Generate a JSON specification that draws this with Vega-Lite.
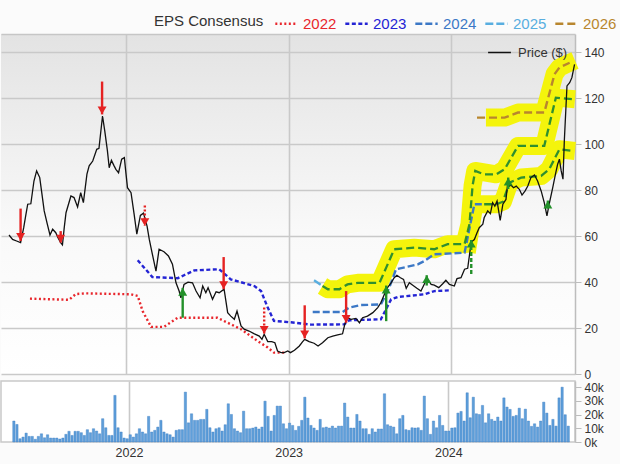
{
  "$schema": "https://vega.github.io/schema/vega-lite/v6.json",
  "background": "#fbfbfb",
  "padding": {"left": 0, "top": 11, "right": 4, "bottom": 4},
  "config": {"font": "Liberation Sans", "view": {"stroke": null}},
  "spacing": 7,
  "bounds": "flush",
  "datasets": {
    "price": [
      {"date":"2021-04-13","v":60.5},{"date":"2021-04-21","v":58.6},{"date":"2021-04-30","v":57.9},{"date":"2021-05-09","v":57.2},{"date":"2021-05-16","v":63.7},{"date":"2021-05-21","v":69.5},{"date":"2021-05-25","v":73.9},{"date":"2021-06-01","v":74.1},{"date":"2021-06-08","v":84},{"date":"2021-06-14","v":88.4},{"date":"2021-06-21","v":85.5},{"date":"2021-06-25","v":79.7},{"date":"2021-07-01","v":71},{"date":"2021-07-08","v":65.2},{"date":"2021-07-14","v":60.5},{"date":"2021-07-20","v":63},{"date":"2021-07-27","v":61.5},{"date":"2021-08-01","v":59.3},{"date":"2021-08-07","v":57.2},{"date":"2021-08-11","v":56.2},{"date":"2021-08-15","v":63.7},{"date":"2021-08-19","v":70.2},{"date":"2021-08-30","v":77.5},{"date":"2021-09-06","v":76.8},{"date":"2021-09-14","v":72.7},{"date":"2021-09-21","v":78.9},{"date":"2021-09-27","v":74.6},{"date":"2021-10-05","v":87},{"date":"2021-10-10","v":90.6},{"date":"2021-10-18","v":92.7},{"date":"2021-10-27","v":97.8},{"date":"2021-11-01","v":98.2},{"date":"2021-11-09","v":112.3},{"date":"2021-11-14","v":105.8},{"date":"2021-11-20","v":97.1},{"date":"2021-11-24","v":89.8},{"date":"2021-11-29","v":93},{"date":"2021-12-05","v":90.6},{"date":"2021-12-09","v":89.1},{"date":"2021-12-15","v":87.6},{"date":"2021-12-22","v":93.5},{"date":"2021-12-28","v":94.2},{"date":"2021-12-31","v":88.4},
      {"date":"2022-01-04","v":81.1},{"date":"2022-01-12","v":78.9},{"date":"2022-01-19","v":69.5},{"date":"2022-01-25","v":60.9},{"date":"2022-02-02","v":69},{"date":"2022-02-09","v":70},{"date":"2022-02-17","v":64.4},{"date":"2022-02-22","v":58.6},{"date":"2022-03-01","v":52.1},{"date":"2022-03-09","v":44.8},{"date":"2022-03-16","v":54.3},{"date":"2022-03-27","v":53.2},{"date":"2022-04-06","v":51.4},{"date":"2022-04-15","v":47.8},{"date":"2022-04-23","v":39.7},{"date":"2022-04-30","v":36.1},{"date":"2022-05-04","v":33.2},{"date":"2022-05-11","v":39},{"date":"2022-05-20","v":40},{"date":"2022-05-30","v":39.7},{"date":"2022-06-07","v":36.1},{"date":"2022-06-16","v":33.2},{"date":"2022-06-22","v":38.3},{"date":"2022-06-29","v":35.4},{"date":"2022-07-04","v":37.6},{"date":"2022-07-14","v":32.5},{"date":"2022-07-22","v":35.8},{"date":"2022-07-29","v":35.4},{"date":"2022-08-09","v":36.9},{"date":"2022-08-17","v":26.7},{"date":"2022-08-24","v":25.2},{"date":"2022-09-01","v":23.8},{"date":"2022-09-07","v":27.4},{"date":"2022-09-16","v":20.9},{"date":"2022-09-23","v":19.5},{"date":"2022-10-04","v":18.7},{"date":"2022-10-16","v":17.5},{"date":"2022-10-27","v":16.5},{"date":"2022-11-02","v":15.1},{"date":"2022-11-07","v":17.3},{"date":"2022-11-15","v":14.1},{"date":"2022-11-24","v":14.1},{"date":"2022-12-01","v":13.6},{"date":"2022-12-07","v":10},{"date":"2022-12-15","v":9.3},{"date":"2022-12-22","v":9.3},{"date":"2022-12-30","v":10},
      {"date":"2023-01-05","v":9.3},{"date":"2023-01-14","v":10.3},{"date":"2023-01-25","v":12.2},{"date":"2023-02-01","v":14},{"date":"2023-02-06","v":15.1},{"date":"2023-02-16","v":14.1},{"date":"2023-02-27","v":13.4},{"date":"2023-03-08","v":12.2},{"date":"2023-03-18","v":13.6},{"date":"2023-03-30","v":15.8},{"date":"2023-04-10","v":16.5},{"date":"2023-04-21","v":17},{"date":"2023-05-02","v":17.5},{"date":"2023-05-07","v":21.6},{"date":"2023-05-13","v":24.5},{"date":"2023-05-21","v":23.8},{"date":"2023-06-01","v":24.2},{"date":"2023-06-09","v":22.3},{"date":"2023-06-16","v":24.5},{"date":"2023-06-27","v":25.2},{"date":"2023-07-09","v":26.7},{"date":"2023-07-20","v":28.9},{"date":"2023-07-27","v":31},{"date":"2023-08-04","v":34.7},{"date":"2023-08-11","v":37.6},{"date":"2023-08-19","v":39.7},{"date":"2023-08-26","v":41.9},{"date":"2023-09-01","v":43},{"date":"2023-09-09","v":41.9},{"date":"2023-09-16","v":41.2},{"date":"2023-09-22","v":37.3},{"date":"2023-09-29","v":39.7},{"date":"2023-10-09","v":38.3},{"date":"2023-10-16","v":37.3},{"date":"2023-10-25","v":36.1},{"date":"2023-11-02","v":39.3},{"date":"2023-11-09","v":41.2},{"date":"2023-11-17","v":39},{"date":"2023-11-24","v":38.7},{"date":"2023-12-04","v":37.6},{"date":"2023-12-13","v":39.3},{"date":"2023-12-20","v":40.8},{"date":"2023-12-28","v":39},
      {"date":"2024-01-08","v":38.3},{"date":"2024-01-14","v":41.5},{"date":"2024-01-23","v":41.9},{"date":"2024-01-31","v":45.6},{"date":"2024-02-07","v":46},{"date":"2024-02-15","v":57.5},{"date":"2024-02-22","v":58.5},{"date":"2024-02-28","v":61.5},{"date":"2024-03-04","v":63.7},{"date":"2024-03-12","v":65.2},{"date":"2024-03-15","v":68},{"date":"2024-03-23","v":71},{"date":"2024-03-29","v":69.8},{"date":"2024-04-03","v":74.6},{"date":"2024-04-08","v":73.1},{"date":"2024-04-13","v":75.3},{"date":"2024-04-20","v":66.9},{"date":"2024-04-26","v":73.9},{"date":"2024-05-03","v":76},{"date":"2024-05-07","v":83.3},{"date":"2024-05-11","v":81.8},{"date":"2024-05-14","v":82.3},{"date":"2024-05-20","v":81.1},{"date":"2024-05-26","v":81.8},{"date":"2024-06-02","v":80.4},{"date":"2024-06-08","v":77.9},{"date":"2024-06-15","v":79.7},{"date":"2024-06-21","v":81.8},{"date":"2024-06-28","v":85.5},{"date":"2024-07-06","v":86.6},{"date":"2024-07-13","v":84},{"date":"2024-07-21","v":79.7},{"date":"2024-07-28","v":74.6},{"date":"2024-08-03","v":68.8},{"date":"2024-08-08","v":73.9},{"date":"2024-08-16","v":81.1},{"date":"2024-08-22","v":86.9},{"date":"2024-08-27","v":91.3},{"date":"2024-08-31","v":93.5},{"date":"2024-09-04","v":88.4},{"date":"2024-09-08","v":84.8},{"date":"2024-09-11","v":101.4},{"date":"2024-09-17","v":125.4},{"date":"2024-09-23","v":126.8},{"date":"2024-09-28","v":129},{"date":"2024-10-04","v":134.8}
    ],
    "eps": [
      {"yr":"2022","date":"2021-05-30","v":32.8},{"yr":"2022","date":"2021-08-26","v":32.3},{"yr":"2022","date":"2021-09-10","v":34.8},{"yr":"2022","date":"2021-10-03","v":35.1},{"yr":"2022","date":"2022-01-12","v":34.7},{"yr":"2022","date":"2022-01-27","v":34},{"yr":"2022","date":"2022-02-07","v":27.4},{"yr":"2022","date":"2022-02-26","v":20.5},{"yr":"2022","date":"2022-03-27","v":20.5},{"yr":"2022","date":"2022-04-27","v":24.5},{"yr":"2022","date":"2022-07-25","v":24.5},{"yr":"2022","date":"2022-08-17","v":22.3},{"yr":"2022","date":"2022-09-16","v":19.5},{"yr":"2022","date":"2022-10-23","v":14.4},{"yr":"2022","date":"2022-11-15","v":11.5},{"yr":"2022","date":"2022-11-29","v":9.3},{"yr":"2022","date":"2022-12-26","v":9.3},
      {"yr":"2023","date":"2022-01-27","v":49.5},{"yr":"2023","date":"2022-03-01","v":42.2},{"yr":"2023","date":"2022-04-27","v":41.7},{"yr":"2023","date":"2022-05-11","v":43},{"yr":"2023","date":"2022-06-03","v":45.1},{"yr":"2023","date":"2022-07-29","v":45.6},{"yr":"2023","date":"2022-08-24","v":41.2},{"yr":"2023","date":"2022-10-16","v":38.3},{"yr":"2023","date":"2022-10-31","v":36.1},{"yr":"2023","date":"2022-11-15","v":28.9},{"yr":"2023","date":"2022-11-29","v":23.1},{"yr":"2023","date":"2023-01-06","v":22.5},{"yr":"2023","date":"2023-02-20","v":21.5},{"yr":"2023","date":"2023-05-06","v":21.6},{"yr":"2023","date":"2023-05-17","v":23.4},{"yr":"2023","date":"2023-07-27","v":23.8},{"yr":"2023","date":"2023-08-19","v":32.5},{"yr":"2023","date":"2023-09-03","v":33.5},{"yr":"2023","date":"2023-11-02","v":34.7},{"yr":"2023","date":"2023-11-24","v":36.1},{"yr":"2023","date":"2023-12-28","v":36.4},
      {"yr":"2024","date":"2023-02-24","v":27},{"yr":"2024","date":"2023-05-02","v":27},{"yr":"2024","date":"2023-05-17","v":28.9},{"yr":"2024","date":"2023-06-12","v":30},{"yr":"2024","date":"2023-07-27","v":30.3},{"yr":"2024","date":"2023-08-15","v":37.6},{"yr":"2024","date":"2023-08-30","v":45.6},{"yr":"2024","date":"2023-10-18","v":47.7},{"yr":"2024","date":"2023-11-02","v":49.2},{"yr":"2024","date":"2023-11-24","v":52.1},{"yr":"2024","date":"2024-01-31","v":52.8},{"yr":"2024","date":"2024-02-22","v":73.9},{"yr":"2024","date":"2024-03-15","v":73.9},
      {"yr":"2025","date":"2023-02-27","v":40.8},{"yr":"2025","date":"2023-03-18","v":38.3},
      {"yr":"2026","date":"2024-02-28","v":111.6},{"yr":"2026","date":"2024-04-30","v":111.6},{"yr":"2026","date":"2024-05-30","v":113.8},{"yr":"2026","date":"2024-07-28","v":113.8},{"yr":"2026","date":"2024-08-20","v":130.5},{"yr":"2026","date":"2024-08-31","v":133.4},{"yr":"2026","date":"2024-09-23","v":135.5}
    ],
    "current": [
      {"yr":"2024","date":"2024-03-15","v":73.9},{"yr":"2024","date":"2024-04-11","v":73.9},{"yr":"2024","date":"2024-04-26","v":75},{"yr":"2024","date":"2024-05-11","v":83.3},{"yr":"2024","date":"2024-06-06","v":85.5},{"yr":"2024","date":"2024-07-21","v":86.2},{"yr":"2024","date":"2024-08-08","v":89.1},{"yr":"2024","date":"2024-08-31","v":97.8},{"yr":"2024","date":"2024-09-30","v":97.1},
      {"yr":"2025","date":"2023-03-18","v":38.3},{"yr":"2025","date":"2023-03-30","v":36.9},{"yr":"2025","date":"2023-04-25","v":36.9},{"yr":"2025","date":"2023-05-13","v":39},{"yr":"2025","date":"2023-06-05","v":39.7},{"yr":"2025","date":"2023-07-24","v":39.7},{"yr":"2025","date":"2023-08-08","v":46.3},{"yr":"2025","date":"2023-08-26","v":54.3},{"yr":"2025","date":"2023-10-10","v":55},{"yr":"2025","date":"2023-11-24","v":54.3},{"yr":"2025","date":"2023-12-24","v":56.5},{"yr":"2025","date":"2024-01-31","v":56.5},{"yr":"2025","date":"2024-02-11","v":65.2},{"yr":"2025","date":"2024-02-18","v":82},{"yr":"2025","date":"2024-02-24","v":88.4},{"yr":"2025","date":"2024-03-15","v":86.9},{"yr":"2025","date":"2024-04-11","v":86.9},{"yr":"2025","date":"2024-04-30","v":89.1},{"yr":"2025","date":"2024-05-30","v":99.3},{"yr":"2025","date":"2024-07-28","v":99.3},{"yr":"2025","date":"2024-08-23","v":120.3},{"yr":"2025","date":"2024-09-30","v":119.6}
    ],
    "band": [
      {"yr":"2024","date":"2024-02-05","v":53},{"yr":"2024","date":"2024-02-22","v":73.9},{"yr":"2024","date":"2024-04-11","v":73.9},{"yr":"2024","date":"2024-04-26","v":75},{"yr":"2024","date":"2024-05-11","v":83.3},{"yr":"2024","date":"2024-06-06","v":85.5},{"yr":"2024","date":"2024-07-21","v":86.2},{"yr":"2024","date":"2024-08-08","v":89.1},{"yr":"2024","date":"2024-08-31","v":97.8},{"yr":"2024","date":"2024-10-05","v":97.1},
      {"yr":"2025","date":"2023-03-18","v":38.3},{"yr":"2025","date":"2023-03-30","v":36.9},{"yr":"2025","date":"2023-04-25","v":36.9},{"yr":"2025","date":"2023-05-13","v":39},{"yr":"2025","date":"2023-06-05","v":39.7},{"yr":"2025","date":"2023-07-24","v":39.7},{"yr":"2025","date":"2023-08-08","v":46.3},{"yr":"2025","date":"2023-08-26","v":54.3},{"yr":"2025","date":"2023-10-10","v":55},{"yr":"2025","date":"2023-11-24","v":54.3},{"yr":"2025","date":"2023-12-24","v":56.5},{"yr":"2025","date":"2024-01-31","v":56.5},{"yr":"2025","date":"2024-02-11","v":65.2},{"yr":"2025","date":"2024-02-18","v":82},{"yr":"2025","date":"2024-02-24","v":88.4},{"yr":"2025","date":"2024-04-11","v":86.9},{"yr":"2025","date":"2024-04-30","v":89.1},{"yr":"2025","date":"2024-05-30","v":99.3},{"yr":"2025","date":"2024-07-28","v":99.3},{"yr":"2025","date":"2024-08-23","v":120.3},{"yr":"2025","date":"2024-10-05","v":119.6},
      {"yr":"2026","date":"2024-03-19","v":111.6},{"yr":"2026","date":"2024-04-30","v":111.6},{"yr":"2026","date":"2024-05-30","v":113.8},{"yr":"2026","date":"2024-07-28","v":113.8},{"yr":"2026","date":"2024-08-20","v":130.5},{"yr":"2026","date":"2024-08-31","v":133.4},{"yr":"2026","date":"2024-09-23","v":135.5},{"yr":"2026","date":"2024-10-05","v":136.5}
    ],
    "revisions": [
      {"date":"2021-05-09","v0":72,"v":57.9,"dir":"down","firm":true},
      {"date":"2021-08-07","v0":62.2,"v":57.2,"dir":"down","firm":true},
      {"date":"2021-11-08","v0":127.3,"v":113,"dir":"down","firm":true},
      {"date":"2022-02-12","v0":73.4,"v":64.4,"dir":"down","firm":false},
      {"date":"2022-08-08","v0":50.9,"v":36.9,"dir":"down","firm":true},
      {"date":"2022-11-07","v0":28.9,"v":17.5,"dir":"down","firm":false},
      {"date":"2023-02-06","v0":29.9,"v":15.5,"dir":"down","firm":true},
      {"date":"2023-05-10","v0":36.1,"v":22.3,"dir":"down","firm":true},
      {"date":"2022-05-08","v0":24.5,"v":37.5,"dir":"up","firm":true},
      {"date":"2023-08-08","v0":23,"v":38.5,"dir":"up","firm":true},
      {"date":"2023-11-07","v0":38.5,"v":43,"dir":"up","firm":true},
      {"date":"2024-02-15","v0":43.5,"v":58.5,"dir":"up","firm":false},
      {"date":"2024-05-08","v0":80.5,"v":85.5,"dir":"up","firm":true},
      {"date":"2024-08-05","v0":72,"v":75.5,"dir":"up","firm":true}
    ],
    "vol": [
      {"date":"2021-04-13","vol":15300},{"date":"2021-04-20","vol":12800},{"date":"2021-04-27","vol":2400},{"date":"2021-05-04","vol":3600},{"date":"2021-05-11","vol":6500},{"date":"2021-05-18","vol":4100},{"date":"2021-05-25","vol":4100},{"date":"2021-06-01","vol":2000},{"date":"2021-06-08","vol":4100},{"date":"2021-06-15","vol":6000},{"date":"2021-06-22","vol":3100},{"date":"2021-06-29","vol":5300},{"date":"2021-07-06","vol":2900},{"date":"2021-07-13","vol":2900},{"date":"2021-07-20","vol":2900},{"date":"2021-07-27","vol":2200},{"date":"2021-08-03","vol":2900},{"date":"2021-08-10","vol":5600},{"date":"2021-08-17","vol":7800},{"date":"2021-08-24","vol":4800},{"date":"2021-08-31","vol":7800},{"date":"2021-09-07","vol":7800},{"date":"2021-09-14","vol":6800},{"date":"2021-09-21","vol":4800},{"date":"2021-09-28","vol":9000},{"date":"2021-10-05","vol":6800},{"date":"2021-10-12","vol":9700},{"date":"2021-10-19","vol":8000},{"date":"2021-10-26","vol":6000},{"date":"2021-11-02","vol":17000},{"date":"2021-11-09","vol":10400},{"date":"2021-11-16","vol":4800},{"date":"2021-11-23","vol":4800},{"date":"2021-11-30","vol":34000},{"date":"2021-12-07","vol":10400},{"date":"2021-12-14","vol":7300},{"date":"2021-12-21","vol":2900},{"date":"2021-12-28","vol":2400},
      {"date":"2022-01-04","vol":5300},{"date":"2022-01-11","vol":3600},{"date":"2022-01-18","vol":6000},{"date":"2022-01-25","vol":9700},{"date":"2022-02-01","vol":7300},{"date":"2022-02-08","vol":6000},{"date":"2022-02-15","vol":18700},{"date":"2022-02-22","vol":7300},{"date":"2022-03-01","vol":8500},{"date":"2022-03-08","vol":10900},{"date":"2022-03-15","vol":15800},{"date":"2022-03-22","vol":7300},{"date":"2022-03-29","vol":6000},{"date":"2022-04-05","vol":5300},{"date":"2022-04-12","vol":3600},{"date":"2022-04-19","vol":8500},{"date":"2022-04-26","vol":9000},{"date":"2022-05-03","vol":9000},{"date":"2022-05-10","vol":36400},{"date":"2022-05-17","vol":14000},{"date":"2022-05-24","vol":20600},{"date":"2022-05-31","vol":15800},{"date":"2022-06-07","vol":15800},{"date":"2022-06-14","vol":16500},{"date":"2022-06-21","vol":16500},{"date":"2022-06-28","vol":23800},{"date":"2022-07-05","vol":10400},{"date":"2022-07-12","vol":7300},{"date":"2022-07-19","vol":9700},{"date":"2022-07-26","vol":10400},{"date":"2022-08-02","vol":8000},{"date":"2022-08-09","vol":12600},{"date":"2022-08-16","vol":27900},{"date":"2022-08-23","vol":20100},{"date":"2022-08-30","vol":9700},{"date":"2022-09-06","vol":8000},{"date":"2022-09-13","vol":6800},{"date":"2022-09-20","vol":22500},{"date":"2022-09-27","vol":9700},{"date":"2022-10-04","vol":9700},{"date":"2022-10-11","vol":10200},{"date":"2022-10-18","vol":10900},{"date":"2022-10-25","vol":9500},{"date":"2022-11-01","vol":10900},{"date":"2022-11-08","vol":29800},{"date":"2022-11-15","vol":18700},{"date":"2022-11-22","vol":8000},{"date":"2022-11-29","vol":19400},{"date":"2022-12-06","vol":26200},{"date":"2022-12-13","vol":26200},{"date":"2022-12-20","vol":13300},{"date":"2022-12-27","vol":9700},
      {"date":"2023-01-03","vol":13800},{"date":"2023-01-10","vol":12100},{"date":"2023-01-17","vol":8500},{"date":"2023-01-24","vol":11400},{"date":"2023-01-31","vol":15800},{"date":"2023-02-07","vol":32700},{"date":"2023-02-14","vol":17500},{"date":"2023-02-21","vol":12100},{"date":"2023-02-28","vol":10200},{"date":"2023-03-07","vol":8500},{"date":"2023-03-14","vol":16500},{"date":"2023-03-21","vol":10400},{"date":"2023-03-28","vol":10900},{"date":"2023-04-04","vol":10200},{"date":"2023-04-11","vol":11600},{"date":"2023-04-18","vol":10200},{"date":"2023-04-25","vol":11600},{"date":"2023-05-02","vol":11600},{"date":"2023-05-09","vol":28400},{"date":"2023-05-16","vol":18200},{"date":"2023-05-23","vol":10200},{"date":"2023-05-30","vol":10200},{"date":"2023-06-06","vol":20100},{"date":"2023-06-13","vol":15300},{"date":"2023-06-20","vol":9700},{"date":"2023-06-27","vol":9700},{"date":"2023-07-04","vol":5600},{"date":"2023-07-11","vol":9700},{"date":"2023-07-18","vol":7300},{"date":"2023-07-25","vol":9500},{"date":"2023-08-01","vol":9500},{"date":"2023-08-08","vol":35200},{"date":"2023-08-15","vol":12600},{"date":"2023-08-22","vol":11600},{"date":"2023-08-29","vol":10900},{"date":"2023-09-05","vol":6000},{"date":"2023-09-12","vol":17000},{"date":"2023-09-19","vol":19400},{"date":"2023-09-26","vol":9000},{"date":"2023-10-03","vol":8500},{"date":"2023-10-10","vol":10400},{"date":"2023-10-17","vol":10200},{"date":"2023-10-24","vol":10400},{"date":"2023-10-31","vol":8500},{"date":"2023-11-07","vol":33500},{"date":"2023-11-14","vol":17000},{"date":"2023-11-21","vol":5600},{"date":"2023-11-28","vol":15300},{"date":"2023-12-05","vol":10400},{"date":"2023-12-12","vol":19400},{"date":"2023-12-19","vol":12100},{"date":"2023-12-26","vol":8000},
      {"date":"2024-01-02","vol":8000},{"date":"2024-01-09","vol":10200},{"date":"2024-01-16","vol":10400},{"date":"2024-01-23","vol":21100},{"date":"2024-01-30","vol":22300},{"date":"2024-02-06","vol":15300},{"date":"2024-02-13","vol":35900},{"date":"2024-02-20","vol":17700},{"date":"2024-02-27","vol":32700},{"date":"2024-03-05","vol":20600},{"date":"2024-03-12","vol":20100},{"date":"2024-03-19","vol":26700},{"date":"2024-03-26","vol":14000},{"date":"2024-04-02","vol":20600},{"date":"2024-04-09","vol":16500},{"date":"2024-04-16","vol":15300},{"date":"2024-04-23","vol":18200},{"date":"2024-04-30","vol":15300},{"date":"2024-05-07","vol":32200},{"date":"2024-05-14","vol":25500},{"date":"2024-05-21","vol":23800},{"date":"2024-05-28","vol":18700},{"date":"2024-06-04","vol":19400},{"date":"2024-06-11","vol":24700},{"date":"2024-06-18","vol":17000},{"date":"2024-06-25","vol":24000},{"date":"2024-07-02","vol":15300},{"date":"2024-07-09","vol":11400},{"date":"2024-07-16","vol":13300},{"date":"2024-07-23","vol":10900},{"date":"2024-07-30","vol":15300},{"date":"2024-08-06","vol":29100},{"date":"2024-08-13","vol":21100},{"date":"2024-08-20","vol":12100},{"date":"2024-08-27","vol":16500},{"date":"2024-09-03","vol":11600},{"date":"2024-09-10","vol":32200},{"date":"2024-09-17","vol":40000},{"date":"2024-09-24","vol":19900},{"date":"2024-10-01","vol":11600}
    ]
  },
  "vconcat": [
    {
      "width": 574,
      "height": 340,
      "view": {"stroke": null, "fill": {"gradient": "linear", "x1": 0, "y1": 0, "x2": 0, "y2": 1, "stops": [{"offset": 0, "color": "#e3e3e3"}, {"offset": 0.58, "color": "#f9f9f9"}, {"offset": 1, "color": "#ffffff"}]}},
      "encoding": {
        "x": {"field": "date", "type": "temporal",
          "scale": {"type": "utc", "domain": [{"year": 2021, "month": 3, "date": 26, "utc": true}, {"year": 2024, "month": 10, "date": 5, "utc": true}]},
          "axis": {"orient": "top", "title": null, "labels": false, "ticks": false, "domain": true, "domainColor": "#c6c6c6", "domainWidth": 1.5, "grid": true, "gridColor": "#c9c9c9", "gridWidth": 1.6,
            "values": [{"year": 2022, "month": 1, "date": 1, "utc": true}, {"year": 2023, "month": 1, "date": 1, "utc": true}, {"year": 2024, "month": 1, "date": 1, "utc": true}]}},
        "y": {"field": "v", "type": "quantitative",
          "scale": {"domain": [0, 148], "nice": false, "zero": false},
          "axis": {"orient": "right", "title": null, "values": [0, 20, 40, 60, 80, 100, 120, 140], "grid": true, "gridColor": "#c9c9c9", "gridWidth": 1.6, "domainColor": "#bdbdbd", "domainWidth": 1.5, "tickColor": "#bdbdbd", "tickSize": 6, "labelFontSize": 12, "labelColor": "#333333", "labelPadding": 3}}
      },
      "layer": [
        {"data": {"name": "band"}, "mark": {"type": "line", "color": "#f4f40c", "strokeWidth": 18, "strokeCap": "butt", "strokeJoin": "round"}, "encoding": {"detail": {"field": "yr"}}},
        {"data": {"name": "eps"}, "mark": {"type": "line", "strokeWidth": 2.4},
          "encoding": {
            "color": {"field": "yr", "type": "nominal",
              "scale": {"domain": ["2022", "2023", "2024", "2025", "2026"], "range": ["#e8262c", "#2424d4", "#3c78c6", "#58aee0", "#b8862e"]},
              "legend": {"orient": "none", "legendX": 153, "legendY": -23, "direction": "horizontal", "title": "EPS Consensus", "titleOrient": "left", "titleFontSize": 15, "titleFontWeight": "normal", "titleColor": "#333333", "titlePadding": 10, "symbolType": "stroke", "symbolSize": 500, "symbolStrokeWidth": 2.5, "labelFontSize": 15, "labelOffset": 4, "columnPadding": 3,
                "encode": {"labels": {"update": {"fill": {"scale": "color", "field": "value"}}}}}},
            "strokeDash": {"field": "yr", "type": "nominal",
              "scale": {"domain": ["2022", "2023", "2024", "2025", "2026"], "range": [[2, 2.5], [4, 2.5], [7, 3], [8, 3], [8, 4]]}}
          }},
        {"data": {"name": "current"}, "mark": {"type": "line", "color": "#2f8f2f", "strokeWidth": 2.3, "strokeDash": [8, 4]}, "encoding": {"detail": {"field": "yr"}}},
        {"data": {"name": "price"}, "mark": {"type": "line", "color": "#111111", "strokeWidth": 1.3},
          "encoding": {"opacity": {"datum": "Price ($)", "type": "ordinal", "scale": {"range": [1]},
            "legend": {"orient": "none", "legendX": 486, "legendY": 6, "title": null, "symbolType": "stroke", "symbolSize": 520, "symbolStrokeWidth": 1.5, "symbolStrokeColor": "#111111", "labelFontSize": 13, "labelColor": "#333333", "labelOffset": 6}}}},
        {"data": {"name": "revisions"}, "transform": [{"filter": "datum.dir == 'down' && datum.firm"}], "mark": {"type": "rule", "color": "#e52222", "strokeWidth": 2.4}, "encoding": {"y": {"field": "v0", "type": "quantitative"}, "y2": {"field": "v"}}},
        {"data": {"name": "revisions"}, "transform": [{"filter": "datum.dir == 'down' && !datum.firm"}], "mark": {"type": "rule", "color": "#e52222", "strokeWidth": 2.4, "strokeDash": [2, 2]}, "encoding": {"y": {"field": "v0", "type": "quantitative"}, "y2": {"field": "v"}}},
        {"data": {"name": "revisions"}, "transform": [{"filter": "datum.dir == 'up' && datum.firm"}], "mark": {"type": "rule", "color": "#23902a", "strokeWidth": 2.4}, "encoding": {"y": {"field": "v0", "type": "quantitative"}, "y2": {"field": "v"}}},
        {"data": {"name": "revisions"}, "transform": [{"filter": "datum.dir == 'up' && !datum.firm"}], "mark": {"type": "rule", "color": "#23902a", "strokeWidth": 2.4, "strokeDash": [4, 2]}, "encoding": {"y": {"field": "v0", "type": "quantitative"}, "y2": {"field": "v"}}},
        {"data": {"name": "revisions"}, "transform": [{"filter": "datum.dir == 'down'"}], "mark": {"type": "point", "shape": "triangle-down", "filled": true, "opacity": 1, "size": 80, "color": "#e52222", "yOffset": -4}},
        {"data": {"name": "revisions"}, "transform": [{"filter": "datum.dir == 'up'"}], "mark": {"type": "point", "shape": "triangle-up", "filled": true, "opacity": 1, "size": 80, "color": "#23902a", "yOffset": 4}}
      ]
    },
    {
      "width": 574,
      "height": 61,
      "view": {"stroke": "#c9c9c9", "strokeWidth": 1.5, "fill": "#ffffff"},
      "data": {"name": "vol"},
      "mark": {"type": "bar", "size": 2.3, "color": "#5f9fda", "stroke": "#3a7cc2", "strokeWidth": 0.4},
      "encoding": {
        "x": {"field": "date", "type": "temporal",
          "scale": {"type": "utc", "domain": [{"year": 2021, "month": 3, "date": 26, "utc": true}, {"year": 2024, "month": 10, "date": 5, "utc": true}]},
          "axis": {"orient": "bottom", "title": null, "format": "%Y", "formatType": "utc", "ticks": false, "domain": false, "grid": true, "gridColor": "#c9c9c9", "gridWidth": 1.6, "labelFontSize": 12.5, "labelColor": "#333333", "labelPadding": 4,
            "values": [{"year": 2022, "month": 1, "date": 1, "utc": true}, {"year": 2023, "month": 1, "date": 1, "utc": true}, {"year": 2024, "month": 1, "date": 1, "utc": true}]}},
        "y": {"field": "vol", "type": "quantitative",
          "scale": {"domain": [0, 44500], "nice": false},
          "axis": {"orient": "right", "title": null, "values": [0, 10000, 20000, 30000, 40000], "format": "~s", "grid": false, "domainColor": "#bdbdbd", "domainWidth": 1.5, "tickColor": "#bdbdbd", "tickSize": 6, "labelFontSize": 12, "labelColor": "#333333", "labelPadding": 3}}
      }
    }
  ]
}
